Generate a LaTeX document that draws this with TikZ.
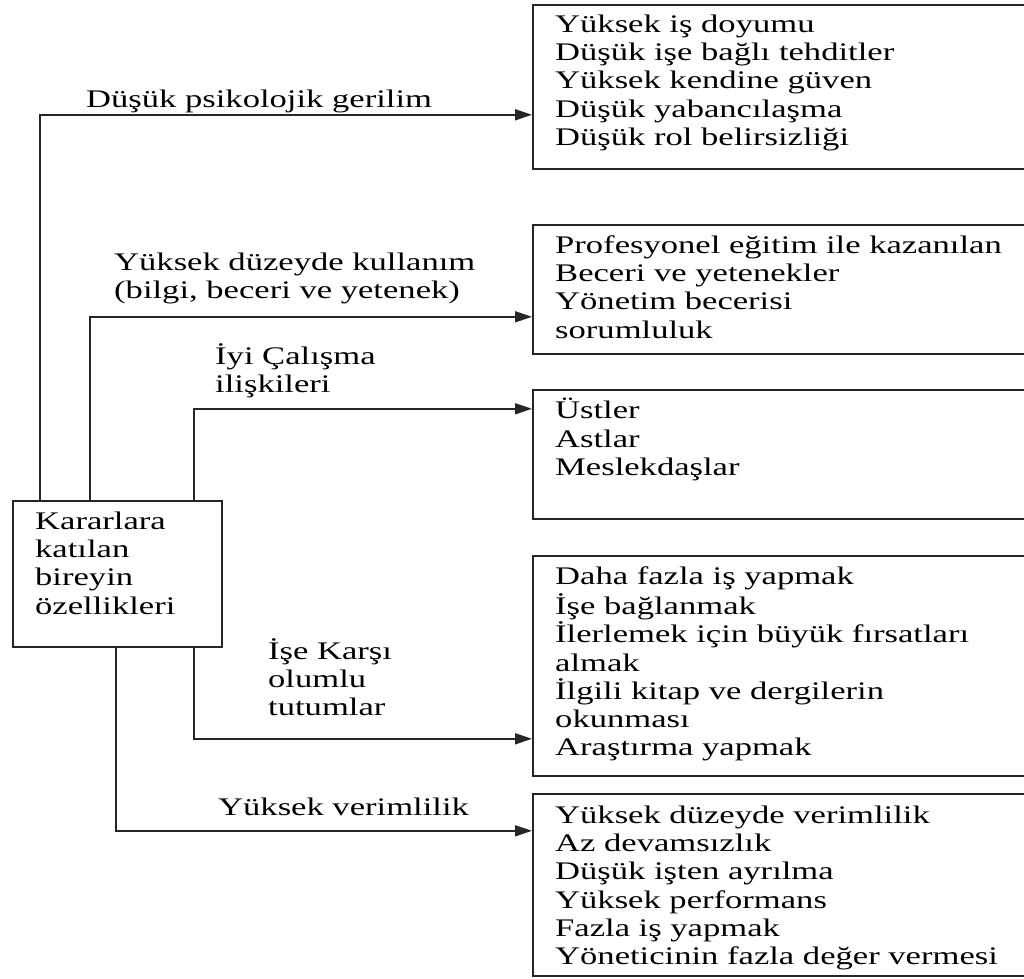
\documentclass[tikz,border=0pt]{standalone}
\usepackage{fontspec}
\setmainfont{Liberation Serif}[FakeStretch=1.367]
\usetikzlibrary{arrows.meta}
\tikzset{
  box/.style={draw=black!85, line width=1.6pt, rectangle, anchor=north west, inner sep=0pt, minimum width=520pt},
  txt/.style={anchor=north west, inner sep=0pt, align=left, font=\fontsize{25.3}{28.3}\selectfont, text=black},
  lbl/.style={anchor=base west, inner sep=0pt, font=\fontsize{25.3}{28.3}\selectfont, text=black},
  conn/.style={draw=black!85, line width=1.6pt, -{Triangle[length=17pt,width=11pt]}},
  plainline/.style={draw=black!85, line width=1.6pt}
}
\begin{document}
\begin{tikzpicture}[x=1pt, y=-1pt]
\useasboundingbox (0,0) rectangle (1024,978);
\clip (0,0) rectangle (1024,978);
\fill[white] (0,0) rectangle (1024,978);

% left box
\node[box, minimum width=209pt, minimum height=146pt] (L) at (12,500) {};
\node[txt] (Lt) at (35,509.1) {\strut Kararlara\\katılan\\bireyin\\özellikleri};

% right boxes
\node[box, minimum height=164pt] (B1) at (532,4) {};
\node[box, minimum height=129pt] (B2) at (532,224) {};
\node[box, minimum height=129pt] (B3) at (532,389) {};
\node[box, minimum height=220pt] (B4) at (532,555) {};
\node[box, minimum height=182pt] (B5) at (532,793) {};

\node[txt] (B1t) at (555,12.1) {\strut Yüksek iş doyumu\\Düşük işe bağlı tehditler\\Yüksek kendine güven\\Düşük yabancılaşma\\Düşük rol belirsizliği};
\node[txt] (B2t) at (555,233.1) {\strut Profesyonel eğitim ile kazanılan\\Beceri ve yetenekler\\Yönetim becerisi\\sorumluluk};
\node[txt] (B3t) at (555,398.1) {\strut Üstler\\Astlar\\Meslekdaşlar};
\node[txt] (B4t) at (555,564.1) {\strut Daha fazla iş yapmak\\İşe bağlanmak\\İlerlemek için büyük fırsatları\\almak\\İlgili kitap ve dergilerin\\okunması\\Araştırma yapmak};
\node[txt] (B5t) at (555,803.1) {\strut Yüksek düzeyde verimlilik\\Az devamsızlık\\Düşük işten ayrılma\\Yüksek performans\\Fazla iş yapmak\\Yöneticinin fazla değer vermesi};

% connectors
\draw[conn] ([xshift=28pt]L.north west) |- ([yshift=-28pt]B1.west);
\draw[conn] ([xshift=78pt]L.north west) |- ([yshift=-27.5pt]B2.west);
\draw[conn] ([xshift=182pt]L.north west) |- ([yshift=45.5pt]B3.west);
\draw[conn] ([xshift=182pt]L.south west) |- ([yshift=-73pt]B4.west);
\draw[conn] ([xshift=104pt]L.south west) |- ([yshift=54pt]B5.west);

% labels
\node[lbl] (l1) at (86,107) {Düşük psikolojik gerilim};
\node[txt] (l2) at (114,250.1) {\strut Yüksek düzeyde kullanım\\(bilgi, beceri ve yetenek)};
\node[txt] (l3) at (215,343.1) {\strut İyi Çalışma\\ilişkileri};
\node[txt] (l4) at (268,638.1) {\strut İşe Karşı\\olumlu\\tutumlar};
\node[lbl] (l5) at (218,815) {Yüksek verimlilik};
\end{tikzpicture}
\end{document}
